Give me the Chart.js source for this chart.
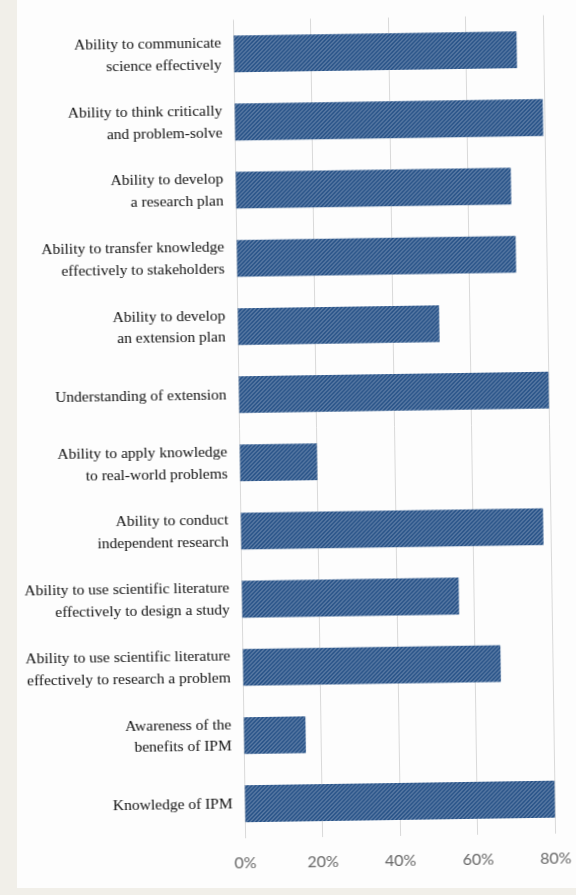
<!DOCTYPE html>
<html>
<head>
<meta charset="utf-8">
<script src="https://cdn.jsdelivr.net/npm/chart.js@4"></script>
<style>
  html, body { margin: 0; padding: 0; width: 576px; height: 895px; overflow: hidden; background: #f1efe9; }
  #panel { position: absolute; left: 17px; top: 0; width: 559px; height: 888px; background: #fdfdfd; }
  #wrap { position: absolute; left: 0; top: 0; width: 576px; height: 895px; transform: rotate(-0.85deg); transform-origin: 394px 426px; }
  canvas { display: block; }
</style>
</head>
<body>
<div id="panel"></div>
<div id="wrap"><canvas id="c" width="576" height="895"></canvas></div>
<script>
const categories = [
  ["Ability to communicate", "science effectively"],
  ["Ability to think critically", "and problem-solve"],
  ["Ability to develop", "a research plan"],
  ["Ability to transfer knowledge", "effectively to stakeholders"],
  ["Ability to develop", "an extension plan"],
  ["Understanding of extension"],
  ["Ability to apply knowledge", "to real-world problems"],
  ["Ability to conduct", "independent research"],
  ["Ability to use scientific literature", "effectively to design a study"],
  ["Ability to use scientific literature", "effectively to research a problem"],
  ["Awareness of the", "benefits of IPM"],
  ["Knowledge of IPM"]
];
const percentValues = [73, 79.5, 71, 72, 52, 80, 20, 78, 56, 66.5, 16, 80];
const xTicks = [0, 20, 40, 60, 80];

function stripePattern() {
  const t = document.createElement('canvas');
  t.width = 4; t.height = 4;
  const g = t.getContext('2d');
  g.fillStyle = '#1f4c83';
  g.fillRect(0, 0, 4, 4);
  g.strokeStyle = '#6583aa';
  g.lineWidth = 1.3;
  g.beginPath();
  g.moveTo(0, 4); g.lineTo(4, 0);
  g.moveTo(-1, 1); g.lineTo(1, -1);
  g.moveTo(3, 5); g.lineTo(5, 3);
  g.stroke();
  return g.createPattern(t, 'repeat');
}

const ctx = document.getElementById('c').getContext('2d');
new Chart(ctx, {
  type: 'bar',
  data: {
    labels: categories,
    datasets: [{
      data: percentValues,
      backgroundColor: stripePattern(),
      borderWidth: 0,
      barPercentage: 0.54,
      categoryPercentage: 1.0
    }]
  },
  options: {
    indexAxis: 'y',
    responsive: false,
    animation: false,
    devicePixelRatio: 1,
    layout: { padding: { left: 0, right: 26.5, top: 17.5, bottom: 19.4 } },
    plugins: { legend: { display: false }, tooltip: { enabled: false } },
    scales: {
      x: {
        min: 0, max: 80,
        afterBuildTicks: (s) => { s.ticks = xTicks.map(v => ({ value: v })); },
        afterFit: (s) => { s.height = 40; s.paddingLeft = 0; s.paddingRight = 0; },
        grid: { color: '#d9d9d9', lineWidth: 1, drawTicks: false },
        border: { display: false },
        ticks: {
          padding: 16,
          color: '#666666',
          font: { family: 'Lato', size: 16 },
          callback: (v) => v + '%'
        }
      },
      y: {
        afterFit: (s) => { s.width = 239; s.paddingTop = 0; s.paddingBottom = 0; },
        grid: { display: false, drawTicks: false },
        border: { display: false },
        ticks: {
          padding: 12,
          color: '#111111',
          font: { family: 'Liberation Serif', size: 15.5, lineHeight: 1.4 }
        }
      }
    }
  }
});
</script>
</body>
</html>
